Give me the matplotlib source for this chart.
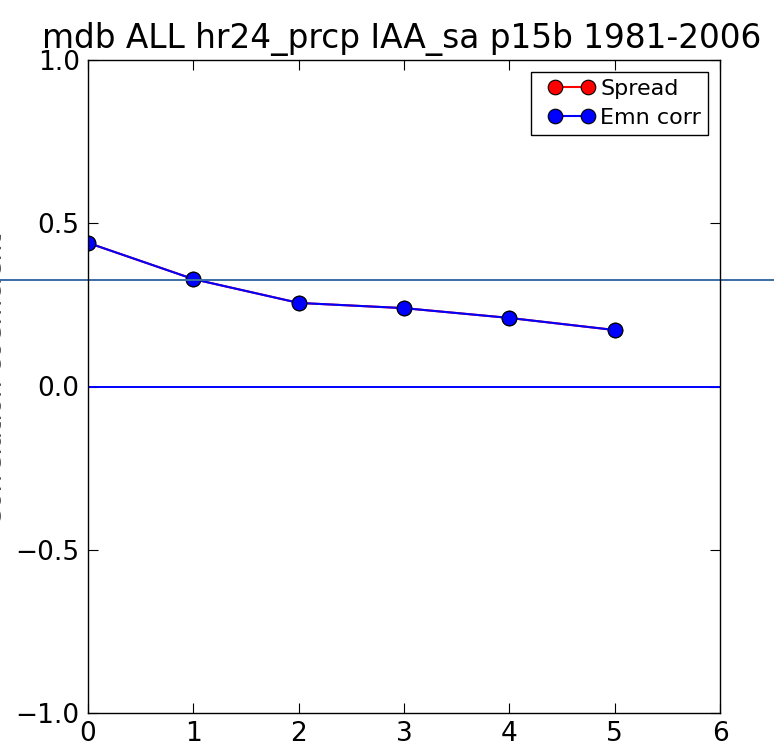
import matplotlib
matplotlib.use("Agg")
from matplotlib import pyplot as plt
from matplotlib.lines import Line2D
from matplotlib.legend_handler import HandlerLine2D

lead = [0, 1, 2, 3, 4, 5]
emn_corr = [0.44, 0.329, 0.256, 0.240, 0.210, 0.173]
spread = [0.44, 0.329, 0.256, 0.240, 0.210, 0.173]
ref_level = 0.326
title = "mdb ALL hr24_prcp IAA_sa p15b 1981-2006"

fig = plt.figure(figsize=(7.74, 7.43), dpi=100)
ax = fig.add_axes([88 / 774, 1 - 713 / 743, 632 / 774, 653 / 743])

ax.plot(lead, spread, '-o', color='red', lw=1.5, ms=10.5, mec='black', mew=0.8, label='Spread')
ax.plot(lead, emn_corr, '-o', color='blue', lw=1.5, ms=10.5, mec='black', mew=0.8, label='Emn corr')
ax.axhline(0, color='blue', lw=1.4)
ax.axhline(ref_level, xmin=-0.2, xmax=1.2, color='#3a6ea5', lw=1.4, clip_on=False)

ax.set_xlim(0, 6)
ax.set_ylim(-1, 1)
ax.set_yticks([-1.0, -0.5, 0.0, 0.5, 1.0])
ax.set_xticks(range(7))
ax.tick_params(direction='in', length=7, width=0.8, labelsize=19, top=True, right=True, pad=6)
for s in ax.spines.values():
    s.set_linewidth(1.0)
ax.set_title(title, fontsize=23.6, pad=9, x=0.496)
ax.set_ylabel('Correlation coefficient', fontsize=19, color='#555555')
ax.yaxis.set_label_coords(-0.1258, 0.51)

leg = ax.legend(loc='upper right', numpoints=2, fontsize=16, fancybox=False, framealpha=1,
                edgecolor='black', handlelength=3.0, handletextpad=-0.2, borderaxespad=0.55,
                labelspacing=0.42, borderpad=0.3,
                handler_map={Line2D: HandlerLine2D(marker_pad=0.75)})
leg.get_frame().set_linewidth(1.0)

fig.savefig('out.png', dpi=100)
